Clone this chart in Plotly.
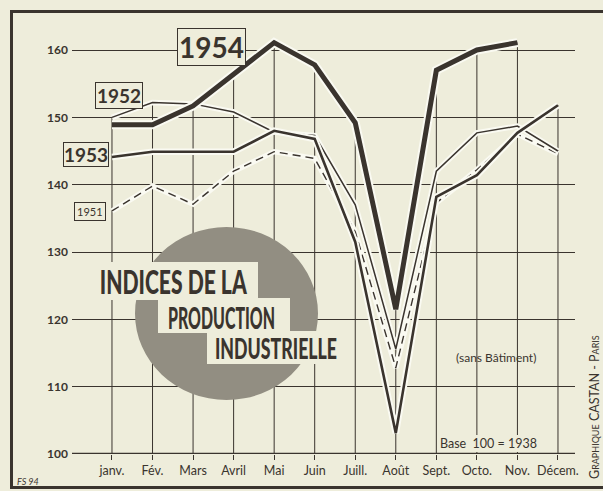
import plotly.graph_objects as go

# ---------------- data ----------------
months = ["janv.", "Fév.", "Mars", "Avril", "Mai", "Juin",
          "Juill.", "Août", "Sept.", "Octo.", "Nov.", "Décem."]
v1951 = [136.1, 139.8, 137.1, 142.0, 144.9, 143.9, 133.0, 112.8, 137.3, 142.2, 147.5, 144.6]
v1952 = [150.0, 152.2, 152.0, 150.8, 147.8, 147.3, 137.0, 115.6, 142.0, 147.7, 148.7, 145.0]
v1953 = [144.1, 144.9, 144.9, 144.9, 148.0, 146.8, 131.5, 103.1, 138.2, 141.4, 147.7, 151.8]
v1954 = [148.9, 148.9, 151.7, 156.3, 161.1, 157.8, 149.2, 121.5, 157.0, 160.0, 161.1, None]
y_ticks = [100, 110, 120, 130, 140, 150, 160]
title_lines = ["INDICES DE LA", "PRODUCTION", "INDUSTRIELLE"]

# ---------------- style ----------------
W, H = 603, 491
ML, MR, MT, MB = 72, 28, 30, 37
PAPER = "#eeeddb"
INK = "#3a342e"
HALO = "#fafaf2"
x = list(range(len(months)))

def px(xp):
    return (xp - ML) / (W - ML - MR)

def py(yp):
    return (H - MB - yp) / (H - MT - MB)

fig = go.Figure()

series = [
    (v1951, 1.4, "8px,5px"),
    (v1952, 1.5, "solid"),
    (v1953, 2.6, "solid"),
    (v1954, 5.0, "solid"),
]
for vals, w, dash in series:
    fig.add_trace(go.Scatter(x=x, y=vals, mode="lines", hoverinfo="skip",
                             line=dict(color=HALO, width=w + 4), showlegend=False))
    fig.add_trace(go.Scatter(x=x, y=vals, mode="lines", hoverinfo="skip",
                             line=dict(color=INK, width=w, dash=dash), showlegend=False))

shapes = []
# vertical month lines from base up to the highest value of the month
for i in x:
    top = max(v for v in (v1951[i], v1952[i], v1953[i], v1954[i]) if v is not None)
    shapes.append(dict(type="line", xref="x", yref="y", x0=i, x1=i, y0=100, y1=top,
                       line=dict(color=INK, width=1), layer="below"))
# hatched-grey disc behind the title
shapes.append(dict(type="circle", xref="paper", yref="paper",
                   x0=px(135), x1=px(318), y0=py(400), y1=py(227),
                   fillcolor="#928e82", line=dict(width=0), layer="above"))
# paper-coloured cut-outs behind the three title lines
for (x0, x1, y0, y1) in [(95, 258, 262, 300), (158, 290, 298, 333), (207, 346, 331, 364)]:
    shapes.append(dict(type="rect", xref="paper", yref="paper",
                       x0=px(x0), x1=px(x1), y0=py(y1), y1=py(y0),
                       fillcolor=PAPER, line=dict(width=0), layer="above"))
# outer frame
shapes.append(dict(type="rect", xref="paper", yref="paper",
                   x0=px(11.5), x1=px(640), y0=py(487.5), y1=py(11.5),
                   line=dict(color=INK, width=3), fillcolor="rgba(0,0,0,0)", layer="above"))

ann = []
def label(text, cx, cy, size, bold=True, border=True, family="Lato", bg=PAPER, pad=2):
    ann.append(dict(text=f"<b>{text}</b>" if bold else text, xref="paper", yref="paper",
                    x=px(cx), y=py(cy), xanchor="center", yanchor="middle", showarrow=False,
                    font=dict(family=family, size=size, color=INK),
                    bgcolor=bg, bordercolor=INK if border else bg,
                    borderwidth=1 if border else 0, borderpad=pad))

label("1954", 211, 47, 28, pad=1)
label("1952", 118.5, 95.5, 19, pad=1)
label("1953", 86, 154.5, 19, pad=0)
label("1951", 90, 212, 11, bold=False, pad=2)

# title lines (condensed afterwards to the width they have in the original)
title_pos = [(173.5, 281), (221.5, 316.5), (276, 347.5)]
title_width = [147, 107, 122]
title_size = [32, 31, 29]
for t, (cx, cy), s, w in zip(title_lines, title_pos, title_size, title_width):
    ann.append(dict(text=t, xref="paper", yref="paper", x=px(cx), y=py(cy),
                    xanchor="center", yanchor="middle", showarrow=False,
                    width=w + 4, height=round(s * 1.0), align="center", valign="middle",
                    font=dict(family="Lato", size=s, color=INK, weight=900)))

label("(sans Bâtiment)", 496, 357, 12, bold=False, border=False, family="Lato", bg="rgba(0,0,0,0)")
label("Base  100 = 1938", 488, 443, 12.5, bold=False, border=False, family="Lato", bg=PAPER, pad=1)
ann.append(dict(text="Graphique CASTAN - Paris", xref="paper", yref="paper",
                x=px(594), y=py(407), textangle=-90, showarrow=False,
                xanchor="center", yanchor="middle",
                font=dict(family="Lato", size=12.5, color=INK, variant="small-caps")))
ann.append(dict(text="<i>FS 94</i>", xref="paper", yref="paper", x=px(15), y=py(481),
                xanchor="left", yanchor="middle", showarrow=False,
                font=dict(family="Lato", size=9, color=INK)))

fig.update_layout(
    width=W, height=H,
    margin=dict(l=ML, r=MR, t=MT, b=MB, pad=0),
    paper_bgcolor=PAPER, plot_bgcolor=PAPER,
    shapes=shapes, annotations=ann, showlegend=False,
    xaxis=dict(range=[-0.986, 11.42], tickmode="array", tickvals=x, ticktext=months,
               showgrid=False, zeroline=False, showline=False,
               ticks="outside", ticklen=5, tickcolor=INK, tickwidth=1,
               tickfont=dict(family="Lato", size=12.5, color=INK)),
    yaxis=dict(range=[100, 100 + 424 / 6.733], tickmode="array", tickvals=y_ticks,
               showgrid=True, gridcolor=INK, gridwidth=1, zeroline=False,
               showline=False, ticks="", ticklabelstandoff=3,
               tickfont=dict(family="Lato", size=12, color=INK, weight="bold")),
)
# thicker base line at 100
fig.add_shape(type="line", xref="paper", yref="y", x0=0, x1=1, y0=100, y1=100,
              line=dict(color=INK, width=2.5))

widths_js = "{" + ",".join(f'"{t}":{w}' for t, w in zip(title_lines, title_width)) + "}"
post = (
    "document.body.style.margin='0';"
    f"document.body.style.background='{PAPER}';"
    f"var tw={widths_js};"
    "document.querySelectorAll('text.annotation-text').forEach(function(t){"
    "var w=tw[t.textContent];"
    "if(w){t.setAttribute('textLength',w);t.setAttribute('lengthAdjust','spacingAndGlyphs');}"
    "});"
)
fig.write_html("out.html", post_script=post, config={"displayModeBar": False})
